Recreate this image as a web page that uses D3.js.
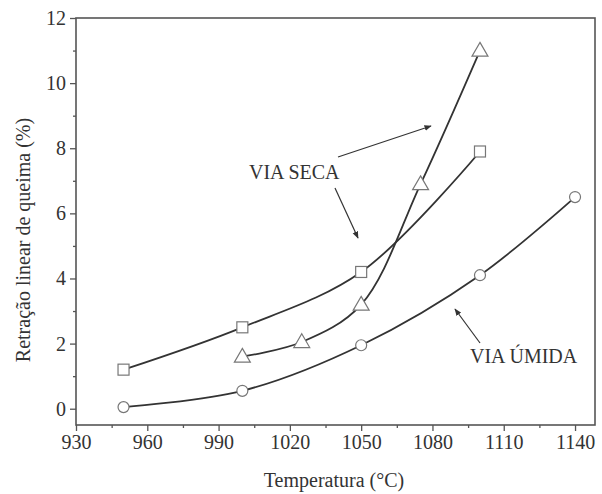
<!DOCTYPE html>
<html><head><meta charset="utf-8">
<script src="https://cdn.jsdelivr.net/npm/d3@7"></script>
<style>body{margin:0;background:#fff}svg{display:block}text{font-family:"Liberation Serif","Times New Roman",serif;fill:#333}</style>
</head><body><svg id="c" width="602" height="494"></svg>
<script>
const squareT = [950, 1000, 1050, 1100];
const squareV = [1.2, 2.5, 4.2, 7.9];
const triT = [1000, 1025, 1050, 1075, 1100];
const triV = [1.6, 2.05, 3.2, 6.9, 11.0];
const circT = [950, 1000, 1050, 1100, 1140];
const circV = [0.05, 0.55, 1.95, 4.1, 6.5];
const xTicks = [930, 960, 990, 1020, 1050, 1080, 1110, 1140];
const yTicks = [0, 2, 4, 6, 8, 10, 12];

const svg = d3.select("#c");
const L = 76, R = 595, T = 18, B = 425;
const x = d3.scaleLinear().domain([930, 1148.4]).range([L, R]);
const y = d3.scaleLinear().domain([-0.5, 12]).range([B, T]);
const axisCol = "#555";
const FS = "20px";

// frame
svg.append("rect").attr("x", L).attr("y", T).attr("width", R - L).attr("height", B - T)
  .attr("fill", "none").attr("stroke", axisCol).attr("stroke-width", 1.6);

// axes
const xa = svg.append("g").attr("transform", `translate(0,${B})`)
  .call(d3.axisBottom(x).tickValues(xTicks).tickSize(6).tickPadding(4).tickFormat(d3.format("d")));
const xm = svg.append("g").attr("transform", `translate(0,${B})`)
  .call(d3.axisBottom(x).tickValues(d3.range(945, 1141, 30)).tickSize(3).tickFormat(""));
const ya = svg.append("g").attr("transform", `translate(${L},0)`)
  .call(d3.axisLeft(y).tickValues(yTicks).tickSize(6).tickPadding(4));
const ym = svg.append("g").attr("transform", `translate(${L},0)`)
  .call(d3.axisLeft(y).tickValues(d3.range(1, 12, 2)).tickSize(3).tickFormat(""));
[xa, xm, ya, ym].forEach(g => {
  g.select(".domain").remove();
  g.selectAll("line").attr("stroke", axisCol).attr("stroke-width", 1.3);
  g.selectAll("text").style("font-family", '"Liberation Serif",serif').style("font-size", FS).attr("fill", "#444");
});

svg.append("text").attr("x", 334).attr("y", 487).attr("text-anchor", "middle")
  .style("font-size", FS).text("Temperatura (°C)");
svg.append("text").attr("transform", "translate(30,240) rotate(-90)").attr("text-anchor", "middle")
  .style("font-size", FS).text("Retração linear de queima (%)");

// curves
const line = d3.line().x(d => x(d[0])).y(d => y(d[1])).curve(d3.curveCatmullRom.alpha(0.5));
const sq = squareT.map((t, i) => [t, squareV[i]]);
const tr = triT.map((t, i) => [t, triV[i]]);
const ci = circT.map((t, i) => [t, circV[i]]);
[sq, tr, ci].forEach(d => svg.append("path").attr("d", line(d)).attr("fill", "none")
  .attr("stroke", "#333").attr("stroke-width", 1.8));

// markers
svg.selectAll(".sq").data(sq).join("rect").attr("x", d => x(d[0]) - 5.5).attr("y", d => y(d[1]) - 5.5)
  .attr("width", 11).attr("height", 11).attr("fill", "#fff").attr("stroke", "#777").attr("stroke-width", 1.2);
svg.selectAll(".ci").data(ci).join("circle").attr("cx", d => x(d[0])).attr("cy", d => y(d[1])).attr("r", 5.5)
  .attr("fill", "#fff").attr("stroke", "#777").attr("stroke-width", 1.2);
const triPath = d3.symbol().type(d3.symbolTriangle).size(110);
svg.selectAll(".tr").data(tr).join("path").attr("d", triPath)
  .attr("transform", d => `translate(${x(d[0])},${y(d[1]) + 1})`)
  .attr("fill", "#fff").attr("stroke", "#777").attr("stroke-width", 1.2);

// annotations
const defs = svg.append("defs");
defs.append("marker").attr("id", "ah").attr("viewBox", "0 0 10 10").attr("refX", 9).attr("refY", 5)
  .attr("markerWidth", 6).attr("markerHeight", 6).attr("orient", "auto")
  .append("path").attr("d", "M0,1 L10,5 L0,9 Z").attr("fill", "#333");
const arrows = [[338, 157, 431, 126], [335, 188, 358, 238], [480, 343, 455, 309]];
arrows.forEach(a => svg.append("line").attr("x1", a[0]).attr("y1", a[1]).attr("x2", a[2]).attr("y2", a[3])
  .attr("stroke", "#333").attr("stroke-width", 1.2).attr("marker-end", "url(#ah)"));
svg.append("text").attr("x", 249).attr("y", 179).style("font-size", FS).text("VIA SECA");
svg.append("text").attr("x", 470).attr("y", 363).style("font-size", FS).text("VIA ÚMIDA");
</script></body></html>
